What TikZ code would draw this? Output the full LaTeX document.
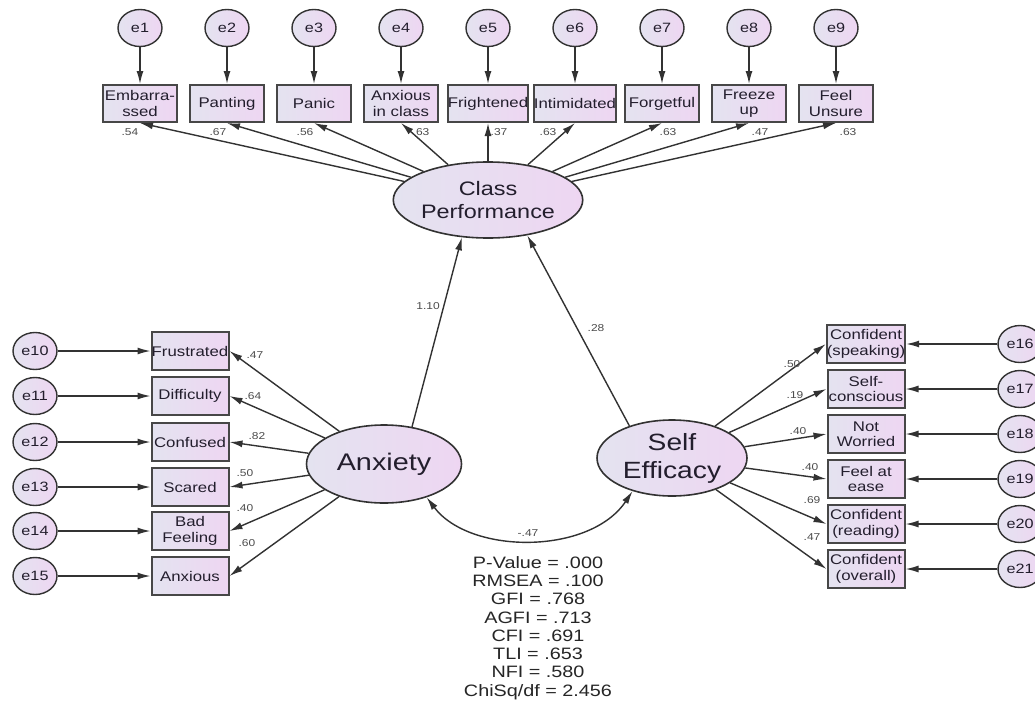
\documentclass[tikz,border=0pt]{standalone}
\usepackage{fontspec}
\setmainfont{Liberation Sans}[FakeStretch=1.2]
\usetikzlibrary{arrows.meta,shapes.geometric}
\definecolor{fillL}{RGB}{228,227,240}
\definecolor{fillR}{RGB}{238,214,242}
\definecolor{edge}{RGB}{50,50,50}
\definecolor{ink}{RGB}{35,30,45}
\begin{document}
\begin{tikzpicture}[x=1pt,y=-1pt,
  errnode/.style={ellipse, draw=edge, line width=1.4pt, left color=fillL, right color=fillR,
    minimum width=44pt, minimum height=37pt, inner sep=0pt, text=ink, font=\fontsize{13.5}{15}\selectfont},
  obsnode/.style={rectangle, draw=edge!90, line width=2pt, left color=fillL, right color=fillR,
    minimum width=74pt, minimum height=37pt, inner sep=0pt, align=center, text=ink,
    font=\fontsize{14}{15.5}\selectfont},
  sidenode/.style={obsnode, minimum width=77pt, minimum height=38pt},
  latnode/.style={ellipse, draw=edge, line width=1.6pt, left color=fillL, right color=fillR,
    inner sep=0pt, align=center, text=ink},
  arr/.style={-{Latex[length=13pt,width=7pt]}, line width=1.4pt, draw=edge},
  dblarr/.style={{Latex[length=13pt,width=7pt]}-{Latex[length=13pt,width=7pt]}, line width=1.4pt, draw=edge},
  lbl/.style={font=\fontsize{10}{10}\selectfont, text=black!70, inner sep=0pt}
]
\useasboundingbox (0,0) rectangle (1035,709);
\fill[white] (0,0) rectangle (1035,709);

% Latent variables
\node[latnode, minimum width=147pt, minimum height=76pt, font=\fontsize{19.5}{23}\selectfont] (cp) at (488,200) {Class\\Performance};
\node[latnode, minimum width=155pt, minimum height=78pt, font=\fontsize{24}{28}\selectfont] (anx) at (384,464) {Anxiety};
\node[latnode, minimum width=150pt, minimum height=76pt, font=\fontsize{23.5}{28}\selectfont] (se) at (672,458) {Self\\Efficacy};

% Top indicators
\foreach \i/\txt/\lab/\lx in {1/{Embarra-\\ssed}/.54/130, 2/Panting/.67/218, 3/Panic/.56/305,
   4/{Anxious\\in class}/.63/421, 5/Frightened/.37/499, 6/Intimidated/.63/548,
   7/Forgetful/.63/668, 8/{Freeze\\up}/.47/760, 9/{Feel\\Unsure}/.63/848} {
  \pgfmathsetmacro{\xx}{140+87*(\i-1)}
  \node[errnode] (e\i) at (\xx,28) {e\i};
  \node[obsnode] (t\i) at (\xx,103.5) {\txt};
  \draw[arr] (e\i) -- (t\i);
  \draw[arr] (cp) -- (t\i.south);
  \node[lbl] (tl\i) at (\lx,132) {\lab};
}

% Left indicators
\foreach \i/\txt/\yy/\lab/\lx/\ly in {10/Frustrated/351/.47/255/355, 11/Difficulty/396/.64/253/396,
   12/Confused/442/.82/257/436, 13/Scared/487/.50/245/473, 14/{Bad\\Feeling}/531/.40/245/508,
   15/Anxious/576/.60/247/543} {
  \node[errnode] (e\i) at (35,\yy) {e\i};
  \node[sidenode] (l\i) at (190,\yy) {\txt};
  \draw[arr] (e\i) -- (l\i);
  \draw[arr] (anx) -- (l\i.east);
  \node[lbl] (ll\i) at (\lx,\ly) {\lab};
}

% Right indicators
\foreach \i/\txt/\yy/\lab/\lx/\ly in {16/{Confident\\(speaking)}/344/.50/792/364,
   17/{Self-\\conscious}/389/.19/795/395, 18/{Not\\Worried}/434/.40/798/431,
   19/{Feel at\\ease}/479/.40/810/467, 20/{Confident\\(reading)}/524/.69/812/500,
   21/{Confident\\(overall)}/569/.47/812/537} {
  \node[errnode] (e\i) at (1020,\yy) {e\i};
  \node[sidenode] (r\i) at (866,\yy) {\txt};
  \draw[arr] (e\i) -- (r\i);
  \draw[arr] (se) -- (r\i.west);
  \node[lbl] (rl\i) at (\lx,\ly) {\lab};
}

% Structural paths
\draw[arr] (anx.53) -- (cp.235);
\node[lbl] (p1) at (428,306) {1.10};
\draw[arr] (se.143) -- (cp.318);
\node[lbl] (p2) at (596,328) {.28};

% Covariance
\draw[dblarr] (anx.322) .. controls (470,555) and (590,555) .. (se.220);
\node[lbl] (cov) at (528,533) {-.47};

% Fit statistics
\node[anchor=north, align=center, inner sep=0pt, font=\fontsize{16.5}{18.3}\selectfont, text=black!85] (fit) at (538,556)
  {P-Value = .000\\RMSEA = .100\\GFI = .768\\AGFI = .713\\CFI = .691\\TLI = .653\\NFI = .580\\ChiSq/df = 2.456};
\end{tikzpicture}
\end{document}
